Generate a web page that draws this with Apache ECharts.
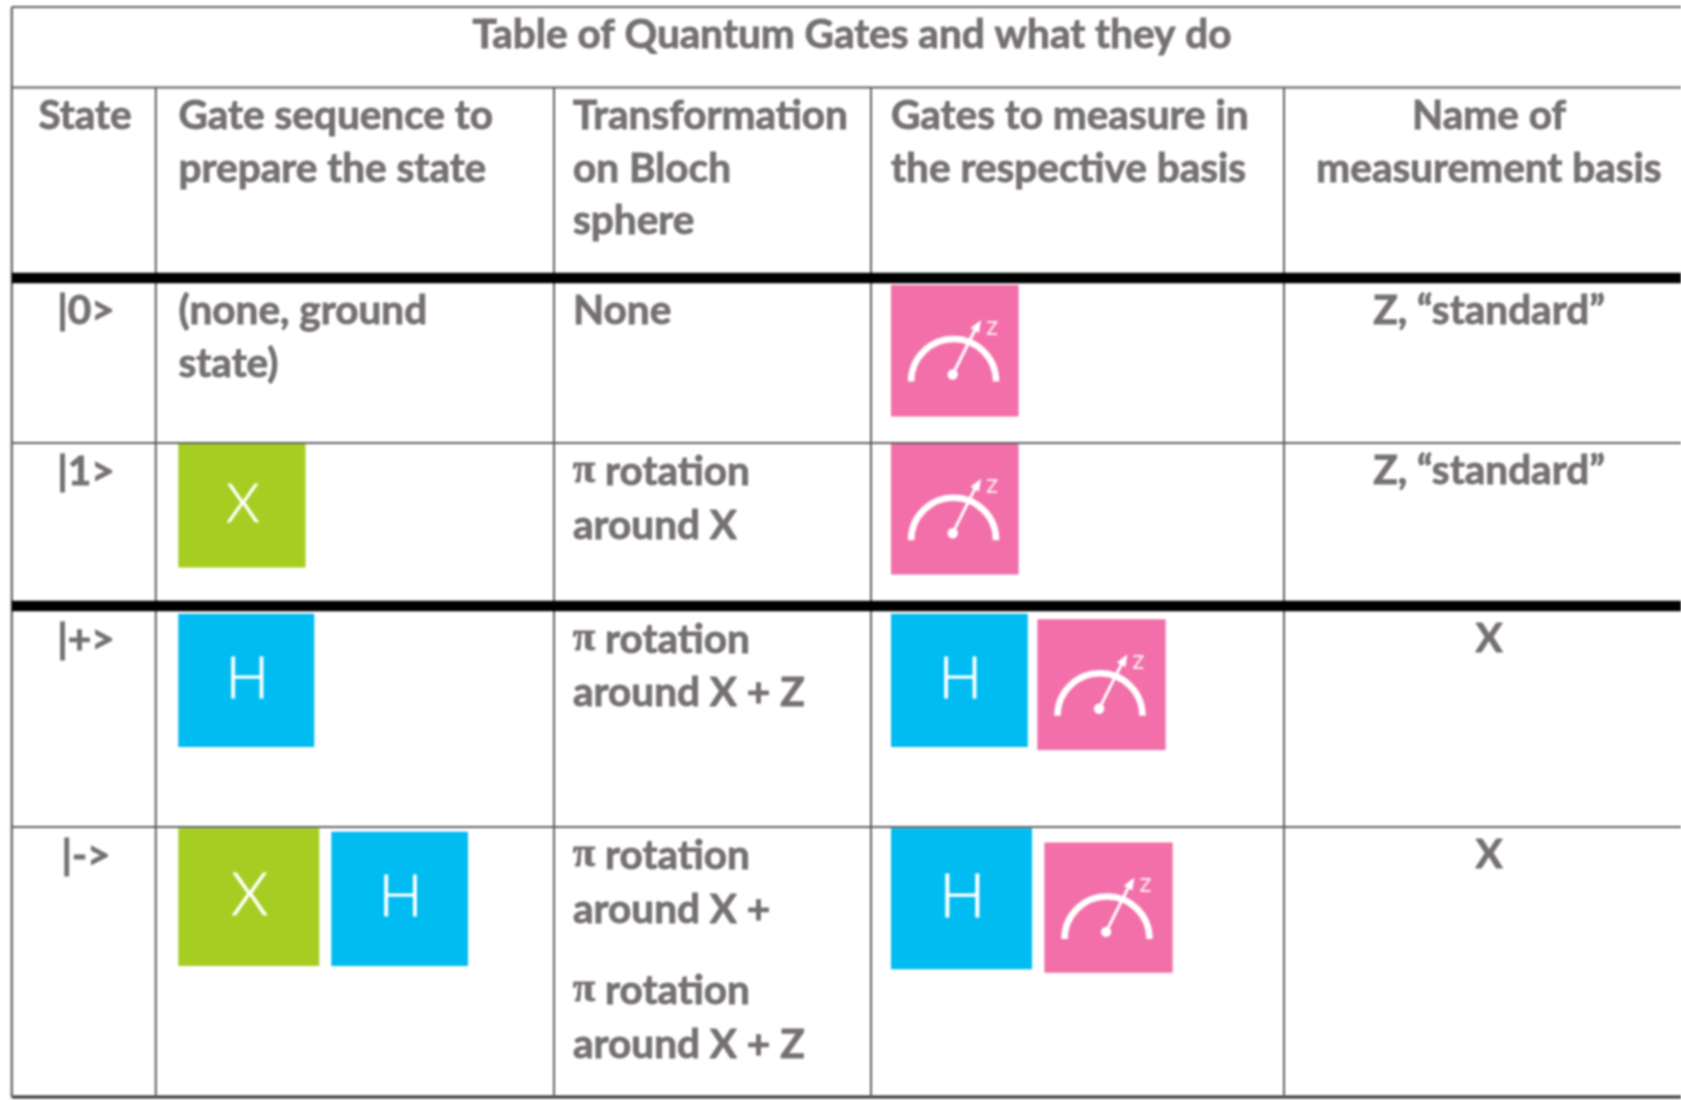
<!DOCTYPE html>
<html>
<head>
<meta charset="utf-8">
<style>
html,body{margin:0;padding:0;background:#fff}
#chart{width:1681px;height:1100px}
#chart canvas{filter:blur(0.8px)}
</style>
<script src="https://cdn.jsdelivr.net/npm/echarts@6/dist/echarts.min.js"></script>
</head>
<body>
<div id="chart"></div>
<script>
// ---- table content ----
const tableTitle = 'Table of Quantum Gates and what they do';
const columnHeaders = [
  ['State'],
  ['Gate sequence to', 'prepare the state'],
  ['Transformation', 'on Bloch', 'sphere'],
  ['Gates to measure in', 'the respective basis'],
  ['Name of', 'measurement basis']
];
const states = ['|0>', '|1>', '|+>', '|->'];
const preparationNotes = [['(none, ground', 'state)'], [], [], []];
const preparationGates = [[], ['X'], ['H'], ['X', 'H']];
const transformations = [
  ['None'],
  ['π rotation', 'around X'],
  ['π rotation', 'around X + Z'],
  ['π rotation', 'around X +', 'π rotation', 'around X + Z']
];
const measurementGates = [['M'], ['M'], ['H', 'M'], ['H', 'M']];
const measurementBases = ['Z, “standard”', 'Z, “standard”', 'X', 'X'];

// ---- layout (separate from the content above) ----
const columnEdges = [11.8, 155.8, 554, 871, 1284, 1681];
const tableTop = 7, tableBottom = 1097, headerTop = 87.5;
const rowRules = [[278, 10.5], [443, 2], [606, 10.5], [827, 2]];
const textX = {state: 85, prep: 178.5, trans: 573, meas: 891, basis: 1489};
const headerLineY = [116, 168.7, 220.7];
const rowLineY = [[311, 363.8], [472, 525.8], [639.5, 693], [856, 909.7, 990.8, 1044.5]];
const basisLineY = [311, 471, 638.5, 855];
const prepBoxes = [[], [[178.3, 443.7, 305.5, 567.6]], [[178.3, 613.8, 314.3, 747]],
  [[178.3, 828.3, 319.3, 966], [331.3, 831.7, 468, 966]]];
const measBoxes = [[[891, 285, 1018.6, 416.5]], [[891, 443.7, 1018.6, 574.4]],
  [[891, 613.8, 1027.8, 747], [1037.4, 619.3, 1165.6, 750]],
  [[891, 828.3, 1032, 969.3], [1044.4, 842.4, 1172.6, 972.7]]];

// ---- styles ----
const FONT = 'Lato';
const FONT_SIZE = 40.5;
const TEXT_COLOR = '#767171';
const RULE_COLOR = '#5f5f5f';
const GATE_COLORS = {X: '#a6ce22', H: '#00bcf1', M: '#f26fa9'};

// ---- build marks ----
const rules = [];   // [x0, y0, x1, y1, width, color]
rules.push([columnEdges[0], tableTop, 1681, tableTop, 2.2, RULE_COLOR]);
rules.push([columnEdges[0], headerTop, 1681, headerTop, 2.2, RULE_COLOR]);
rules.push([columnEdges[0], tableBottom, 1681, tableBottom, 3, '#333']);
rules.push([columnEdges[0], tableTop, columnEdges[0], tableBottom, 2.2, RULE_COLOR]);
for (let i = 1; i < columnEdges.length - 1; i++) {
  rules.push([columnEdges[i], headerTop, columnEdges[i], tableBottom, 2, RULE_COLOR]);
}
rowRules.forEach(function (r) {
  rules.push([columnEdges[0], r[0], 1681, r[0], r[1], r[1] > 4 ? '#000' : RULE_COLOR]);
});

const texts = [];   // {x, y, text, align}
function addText(x, y, text, align) { texts.push({x: x, y: y, text: text, align: align || 'left'}); }
addText(852, 35, tableTitle, 'center');
const headerX = [textX.state, textX.prep, textX.trans, textX.meas, textX.basis];
columnHeaders.forEach(function (lines, c) {
  lines.forEach(function (t, l) {
    addText(headerX[c], headerLineY[l], t, (c === 0 || c === 4) ? 'center' : 'left');
  });
});
states.forEach(function (s, r) { addText(textX.state + 1, rowLineY[r][0], s, 'center'); });
preparationNotes.forEach(function (lines, r) {
  lines.forEach(function (t, l) { addText(textX.prep, rowLineY[r][l], t); });
});
transformations.forEach(function (lines, r) {
  lines.forEach(function (t, l) { addText(textX.trans, rowLineY[r][l], t); });
});
measurementBases.forEach(function (t, r) { addText(textX.basis, basisLineY[r], t, 'center'); });

const gates = [];   // {box, kind}
preparationGates.forEach(function (list, r) {
  list.forEach(function (k, i) { gates.push({box: prepBoxes[r][i], kind: k}); });
});
measurementGates.forEach(function (list, r) {
  list.forEach(function (k, i) { gates.push({box: measBoxes[r][i], kind: k}); });
});

function textItem(d, pt) {
  const piLine = d.text.charAt(0) === 'π';
  const style = {
    x: pt[0], y: pt[1], align: d.align, verticalAlign: 'middle',
    fill: TEXT_COLOR, fontFamily: FONT, fontWeight: 700, fontSize: FONT_SIZE,
    stroke: TEXT_COLOR, lineWidth: 0.9
  };
  if (piLine) {
    style.text = '{p|π}{t|' + d.text.slice(1) + '}';
    style.rich = {
      p: {fontFamily: 'Liberation Serif', fontWeight: 700, fontSize: FONT_SIZE, fill: TEXT_COLOR,
        stroke: TEXT_COLOR, lineWidth: 0.9},
      t: {fontFamily: FONT, fontWeight: 700, fontSize: FONT_SIZE, fill: TEXT_COLOR,
        stroke: TEXT_COLOR, lineWidth: 0.9}
    };
  } else {
    style.text = d.text;
  }
  return {type: 'text', style: style};
}

function gateItem(g, api) {
  const p0 = api.coord([g.box[0], g.box[1]]);
  const p1 = api.coord([g.box[2], g.box[3]]);
  const w = p1[0] - p0[0], h = p1[1] - p0[1];
  const kids = [{type: 'rect', shape: {x: p0[0], y: p0[1], width: w, height: h},
    style: {fill: GATE_COLORS[g.kind]}}];
  if (g.kind === 'M') {
    const ox = p0[0], oy = p0[1];
    kids.push({type: 'arc', shape: {cx: ox + 62.6, cy: oy + 96.5, r: 42.5,
      startAngle: Math.PI, endAngle: 2 * Math.PI, clockwise: true},
      style: {fill: null, stroke: '#fff', lineWidth: 6.5}});
    kids.push({type: 'line', shape: {x1: ox + 61.7, y1: oy + 89.5, x2: ox + 85, y2: oy + 43},
      style: {stroke: '#fff', lineWidth: 3}});
    kids.push({type: 'circle', shape: {cx: ox + 61.7, cy: oy + 89.5, r: 5.2}, style: {fill: '#fff'}});
    kids.push({type: 'polygon', shape: {points: [[ox + 90, oy + 35], [ox + 79.5, oy + 43], [ox + 88, oy + 48]]},
      style: {fill: '#fff'}});
    kids.push({type: 'text', style: {x: ox + 101, y: oy + 41, text: 'z', align: 'center', verticalAlign: 'middle',
      fill: 'rgba(255,255,255,0.85)', fontFamily: FONT, fontSize: 27}});
  } else {
    kids.push({type: 'text', style: {x: p0[0] + w * 0.5 + 1, y: p0[1] + h * 0.49,
      text: g.kind, align: 'center', verticalAlign: 'middle',
      fill: '#fff', fontFamily: FONT, fontWeight: 300, fontSize: h * 0.43,
      stroke: '#fff', lineWidth: 0.8}});
  }
  return {type: 'group', children: kids};
}

const option = {
  animation: false,
  backgroundColor: '#fff',
  grid: {left: 0, right: 0, top: 0, bottom: 0},
  xAxis: {type: 'value', min: 0, max: 1681, show: false},
  yAxis: {type: 'value', min: 0, max: 1100, inverse: true, show: false},
  series: [
    {
      type: 'custom', coordinateSystem: 'cartesian2d', silent: true, clip: false, z: 3,
      data: rules.map(function (r) { return r.slice(0, 5); }),
      renderItem: function (params, api) {
        const a = api.coord([api.value(0), api.value(1)]);
        const b = api.coord([api.value(2), api.value(3)]);
        return {type: 'line', shape: {x1: a[0], y1: a[1], x2: b[0], y2: b[1]},
          style: {stroke: rules[params.dataIndex][5], lineWidth: api.value(4)}};
      }
    },
    {
      type: 'custom', coordinateSystem: 'cartesian2d', silent: true, clip: false, z: 2,
      data: gates.map(function (g) { return g.box; }),
      renderItem: function (params, api) { return gateItem(gates[params.dataIndex], api); }
    },
    {
      type: 'custom', coordinateSystem: 'cartesian2d', silent: true, clip: false, z: 4,
      data: texts.map(function (d) { return [d.x, d.y]; }),
      renderItem: function (params, api) {
        return textItem(texts[params.dataIndex], api.coord([api.value(0), api.value(1)]));
      }
    }
  ]
};
echarts.init(document.getElementById('chart')).setOption(option);
</script>
</body>
</html>
